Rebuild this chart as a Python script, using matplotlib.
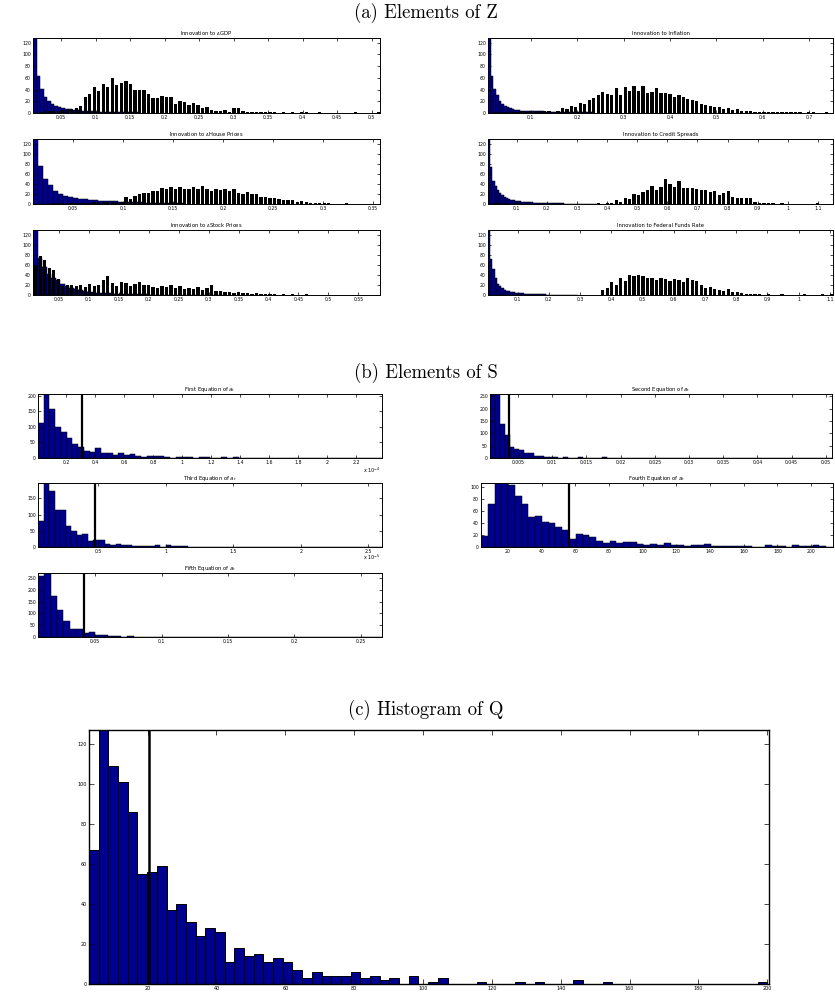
import numpy as np
import matplotlib.pyplot as plt

NAVY = '#00008f'
FW, FH = 835, 992

# ---------------- (a) Elements of Z : blue = first histogram, black = second ----------------
gdp_blue_rng = (0.009, 0.162)
gdp_blue = [140, 64, 41, 28, 21, 16, 12, 10, 8, 7, 6, 5, 5, 4, 4, 3, 3, 3, 2, 2, 2, 2, 1, 1, 1, 1, 1, 1, 1, 1]
gdp_black_rng = (0.009, 0.512)
gdp_black = [0, 2, 3, 3, 4, 4, 5, 6, 7, 9, 12,
             27, 33, 45, 37, 50, 45, 60, 47, 52, 54, 50, 40, 40, 40, 33, 25, 26, 29, 28, 27, 15, 20, 19, 14, 17,
             13, 8, 10, 5, 4, 3, 5, 2, 9, 9, 3, 2, 2, 2, 1, 2, 1, 1, 0, 1, 0, 2, 0, 1, 2, 0, 0, 1, 0, 0, 0, 0,
             0, 0, 0, 1, 0, 0, 0, 0, 1]

infl_blue_rng = (0.008, 0.236)
infl_blue = [140, 64, 41, 31, 21, 15, 12, 10, 8, 6, 5, 5, 4, 4, 4, 3, 3, 3, 3, 3, 3, 2, 2, 2, 2, 2, 1, 1, 1, 1,
             1, 1, 1, 1, 1, 1, 1, 1, 1, 1]
infl_black_rng = (0.008, 0.751)
infl_black = [0, 1, 1, 2, 2, 2, 2, 3, 2, 3, 2, 3, 3,
              3, 0, 4, 8, 7, 12, 11, 17, 16, 23, 25, 30, 35, 33, 31, 42, 30, 44, 37, 46, 38, 46, 34, 36, 42, 34,
              34, 33, 28, 30, 27, 24, 22, 20, 16, 14, 12, 10, 11, 7, 9, 5, 6, 4, 3, 4, 2, 1, 2, 1, 2, 1, 1, 1,
              2, 1, 1, 0, 1, 2, 0, 0, 1, 0]

house_blue_rng = (0.010, 0.160)
house_blue = [140, 77, 50, 38, 27, 21, 17, 15, 12, 10, 10, 9, 8, 7, 7, 6, 6, 5, 5, 4, 4, 4, 3, 3, 3, 2, 2, 2, 2, 2]
house_black_rng = (0.010, 0.357)
house_black = [0, 1, 1, 1, 2, 2, 2, 2, 3, 3, 3, 3, 3, 4, 4, 4, 4, 4, 5, 5,
               15, 10, 17, 20, 22, 22, 27, 27, 33, 30, 35, 31, 35, 31, 31, 35, 31, 37, 31, 27, 30, 28, 30, 27,
               30, 23, 21, 25, 21, 20, 15, 14, 13, 12, 10, 9, 8, 9, 5, 6, 4, 3, 3, 2, 2, 2, 1, 1, 1, 2, 1, 1,
               1, 0, 1, 1, 0]

credit_blue_rng = (0.005, 0.375)
credit_blue = [140, 75, 47, 37, 28, 22, 18, 15, 12, 10, 9, 8, 7, 6, 6, 5, 5, 4, 4, 4, 3, 3, 3, 3, 3, 2, 2, 2, 2,
               2, 2, 2, 2, 2, 1, 1, 1, 1, 1, 1, 1, 1, 1, 1, 1, 1, 1, 1, 1, 1]
credit_black_rng = (0.005, 1.15)
credit_black = [0, 2, 2, 2, 1, 1, 1, 1, 1, 1, 1, 1, 1, 1, 1, 1, 1, 1, 0, 1, 0, 1, 1, 1, 2,
                1, 2, 3, 8, 5, 12, 10, 21, 19, 24, 28, 36, 28, 34, 50, 40, 34, 46, 32, 33, 33, 30, 28, 28, 25,
                26, 18, 22, 26, 15, 12, 12, 13, 13, 4, 3, 3, 2, 2, 1, 2, 1, 0, 1, 1, 0, 0, 1, 3, 1, 1, 0]

stock_blue_rng = (0.007, 0.330)
stock_blue = [140, 75, 57, 42, 35, 30, 22, 18, 14, 12, 10, 8, 7, 6, 5, 5, 4, 4, 3, 3, 3, 2, 2, 2, 2, 2, 1, 1, 1,
              1, 1, 1, 1, 1, 1, 1, 0, 1, 0, 1, 0, 0, 1]
stock_black_rng = (0.007, 0.586)
stock_black = [60, 78, 71, 55, 51, 33, 18,
               20, 21, 18, 20, 17, 22, 18, 20, 31, 38, 24, 18, 26, 24, 19, 22, 26, 21, 20, 17, 15, 18, 16, 20,
               14, 18, 13, 15, 12, 17, 11, 14, 20, 9, 8, 6, 7, 5, 6, 4, 5, 3, 4, 3, 2, 3, 2, 1, 2, 1, 2, 1, 1,
               2, 1, 0, 1, 1, 0, 1, 0, 0, 1, 0, 1, 0, 0, 1, 0, 1]

fed_blue_rng = (0.005, 0.293)
fed_blue = [140, 72, 53, 35, 23, 18, 14, 11, 9, 8, 7, 6, 5, 5, 4, 4, 3, 3, 3, 3, 2, 2, 2, 2, 2, 2, 1, 1, 1, 1,
            1, 1, 1, 1, 1, 1, 1, 0, 1, 0]
fed_black_rng = (0.005, 1.11)
fed_black = [0, 1, 1, 1, 1, 1, 1, 1, 1, 1, 1, 1, 1, 1, 1, 1, 1, 1, 1, 0, 1, 0, 1, 1, 1,
             10, 14, 26, 20, 35, 28, 40, 38, 40, 38, 35, 34, 30, 34, 32, 28, 33, 30, 26, 34, 30, 28, 20, 15,
             16, 12, 10, 8, 12, 6, 6, 4, 3, 3, 2, 2, 1, 2, 1, 1, 2, 1, 1, 0, 1, 2, 1, 0, 1, 3, 1, 2]

# ---------------- (b) Elements of S ----------------
eq1_rng = (0.004, 2.38)   # x 1e-4
eq1 = [113, 215, 157, 100, 82, 63, 44, 34, 24, 19, 33, 16, 16, 10, 15, 11, 13, 5, 4, 6, 6, 5, 2, 1, 2, 2, 2, 1,
       3, 2, 1, 0, 2, 1, 2, 0, 0, 0, 1, 0, 1, 1, 0, 1, 1, 0, 0, 0, 0, 0, 1, 0, 0, 0, 0, 0, 0, 0, 0, 1]
eq1_line = 0.309

eq2_rng = (0.0009, 0.0509)
eq2 = [255, 285, 140, 92, 46, 37, 33, 20, 19, 10, 8, 5, 4, 3, 2, 3, 2, 1, 4, 1, 2, 1, 0, 3, 2, 1, 0, 0, 1, 0, 2,
       0, 1, 0, 0, 0, 1, 0, 0, 0, 0, 1, 0, 0, 0, 0, 0, 1, 0, 0, 0, 0, 0, 0, 1, 0, 0, 0, 0, 0, 0, 0, 1, 0, 0, 0,
       0, 0, 0, 1]
eq2_line = 0.00364

eq3_rng = (0.056, 2.6)    # x 1e-5
eq3 = [81, 210, 173, 115, 113, 66, 50, 36, 40, 17, 21, 23, 10, 7, 10, 7, 7, 3, 2, 2, 4, 7, 1, 6, 2, 2, 2, 1, 0,
       1, 0, 0, 1, 0, 0, 1, 0, 0, 0, 0, 0, 0, 1, 0, 0, 0, 0, 0, 1, 0, 0, 0, 1, 0, 0, 0, 0, 0, 0, 0, 0, 1]
eq3_line = 0.48

eq4_rng = (4, 213)
eq4 = [18, 72, 125, 115, 104, 86, 72, 50, 52, 42, 40, 33, 28, 14, 22, 20, 17, 10, 7, 10, 7, 8, 8, 5, 3, 5, 3, 7,
       3, 3, 2, 3, 4, 5, 2, 1, 1, 1, 1, 1, 0, 0, 3, 1, 1, 0, 3, 2, 1, 4, 1, 0]
eq4_line = 56

eq5_rng = (0.007, 0.266)
eq5 = [257, 290, 174, 114, 67, 33, 33, 19, 21, 7, 7, 4, 3, 2, 3, 1, 2, 1, 1, 1, 2, 0, 1, 1, 0, 2, 0, 1, 0, 0, 1,
       0, 0, 0, 0, 0, 1, 0, 0, 0, 0, 0, 0, 0, 1, 0, 0, 0, 0, 0, 0, 0, 0, 1]
eq5_line = 0.0417

# ---------------- (c) Histogram of Q ----------------
q_rng = (3.0, 200.0)
q_counts = [67, 135, 109, 101, 86, 55, 56, 59, 37, 40, 31, 24, 28, 26, 11, 18, 14, 15, 11, 13, 11, 7, 3, 6, 4, 4,
            4, 6, 3, 4, 2, 3, 0, 4, 0, 1, 3, 0, 0, 0, 1, 0, 0, 0, 1, 0, 1, 0, 0, 0, 2, 0, 0, 1, 0, 0, 0, 0, 0, 0,
            0, 0, 0, 0, 0, 0, 0, 0, 0, 1]
q_line = 20.4

fig = plt.figure(figsize=(FW / 100, FH / 100), dpi=100)


def box(x0, y0, x1, y1):
    return fig.add_axes([x0 / FW, 1 - y1 / FH, (x1 - x0) / FW, (y1 - y0) / FH])


def fmt(v, pos=None):
    return '%g' % round(v, 6)


def style(ax, xlim, ylim, xticks, yticks, title, tlen=2.0, lsize=3.3):
    ax.set_xlim(*xlim)
    ax.set_ylim(*ylim)
    ax.set_xticks(xticks)
    ax.set_yticks(yticks)
    ax.xaxis.set_major_formatter(fmt)
    ax.yaxis.set_major_formatter(fmt)
    ax.tick_params(direction='in', length=tlen, width=0.5, labelsize=lsize, pad=1.5,
                   top=True, right=True)
    for s in ax.spines.values():
        s.set_linewidth(0.7)
    if title:
        ax.set_title(title, fontsize=3.8, pad=2)


def draw_hist(ax, rng, counts, color=NAVY, lw=0.35):
    edges = np.linspace(rng[0], rng[1], len(counts) + 1)
    ax.bar(edges[:-1], counts, width=edges[1] - edges[0], align='edge',
           color=color, edgecolor='black', linewidth=lw)


def draw_second(ax, rng, counts):
    edges = np.linspace(rng[0], rng[1], len(counts) + 1)
    w = edges[1] - edges[0]
    ax.bar(edges[:-1] + 0.25 * w, counts, width=0.72 * w, align='edge',
           color='black', linewidth=0)


# section titles
for ytxt, txt in [(13, '(a) Elements of Z'), (373, '(b) Elements of S'), (710, '(c) Histogram of Q')]:
    fig.text(426 / FW, 1 - ytxt / FH, txt, ha='center', va='center', fontsize=13.5, family='cmr10')

# (a) panels
yt_a = np.arange(0, 121, 20)
panels_a = [
    ((33, 38, 380, 113), 'Innovation to $_\\Delta$GDP', gdp_blue_rng, gdp_blue, gdp_black_rng, gdp_black,
     (0.009, 0.512), np.arange(0.05, 0.51, 0.05), 128),
    ((488, 38, 833, 113), 'Innovation to Inflation', infl_blue_rng, infl_blue, infl_black_rng, infl_black,
     (0.008, 0.751), np.arange(0.1, 0.71, 0.1), 128),
    ((33, 139, 380, 204), 'Innovation to $_\\Delta$House Prices', house_blue_rng, house_blue, house_black_rng,
     house_black, (0.010, 0.357), np.arange(0.05, 0.351, 0.05), 130),
    ((488, 139, 833, 204), 'Innovation to Credit Spreads', credit_blue_rng, credit_blue, credit_black_rng,
     credit_black, (0.005, 1.15), np.arange(0.1, 1.11, 0.1), 130),
    ((33, 230, 380, 295), 'Innovation to $_\\Delta$Stock Prices', stock_blue_rng, stock_blue, stock_black_rng,
     stock_black, (0.007, 0.586), np.arange(0.05, 0.551, 0.05), 130),
    ((488, 230, 833, 295), 'Innovation to Federal Funds Rate', fed_blue_rng, fed_blue, fed_black_rng, fed_black,
     (0.005, 1.11), np.arange(0.1, 1.11, 0.1), 130),
]
for pos, title, brng, bvals, krng, kvals, xlim, xt, ytop in panels_a:
    ax = box(*pos)
    draw_hist(ax, brng, bvals)
    draw_second(ax, krng, kvals)
    style(ax, xlim, (0, ytop), xt, yt_a, title)

# (b) panels
panels_b = [
    ((38, 394, 382, 458), 'First Equation of $a_t$', eq1_rng, eq1, eq1_line, (0, 205),
     np.arange(0.2, 2.21, 0.2), np.arange(0, 201, 50)),
    ((490, 394, 832, 458), 'Second Equation of $a_t$', eq2_rng, eq2, eq2_line, (0, 260),
     np.arange(0.005, 0.0501, 0.005), np.arange(0, 251, 50)),
    ((38, 483, 382, 547), 'Third Equation of $a_t$', eq3_rng, eq3, eq3_line, (0, 197),
     np.arange(0.5, 2.51, 0.5), np.arange(0, 151, 50)),
    ((481, 483, 833, 547), 'Fourth Equation of $a_t$', eq4_rng, eq4, eq4_line, (0, 107),
     np.arange(20, 201, 20), np.arange(0, 101, 20)),
    ((38, 573, 382, 637), 'Fifth Equation of $a_t$', eq5_rng, eq5, eq5_line, (0, 271),
     np.arange(0.05, 0.251, 0.05), np.arange(0, 251, 50)),
]
for pos, title, rng, vals, vline, ylim, xt, yt in panels_b:
    ax = box(*pos)
    draw_hist(ax, rng, vals)
    ax.axvline(vline, color='black', linewidth=1.6)
    style(ax, rng, ylim, xt, yt, title)

fig.text(372 / FW, 1 - 470 / FH, 'x 10$^{-4}$', fontsize=3.5, ha='center', va='center')
fig.text(372 / FW, 1 - 557 / FH, 'x 10$^{-5}$', fontsize=3.5, ha='center', va='center')

# (c) panel
ax = box(89, 730, 769, 984)
draw_hist(ax, q_rng, q_counts, lw=0.7)
ax.axvline(q_line, color='black', linewidth=1.8)
style(ax, (3.0, 200.5), (0, 127), np.arange(20, 201, 20), np.arange(0, 121, 20), None, tlen=3.5, lsize=3.5)
for s in ax.spines.values():
    s.set_linewidth(1.0)

fig.savefig('out.png', dpi=100)
